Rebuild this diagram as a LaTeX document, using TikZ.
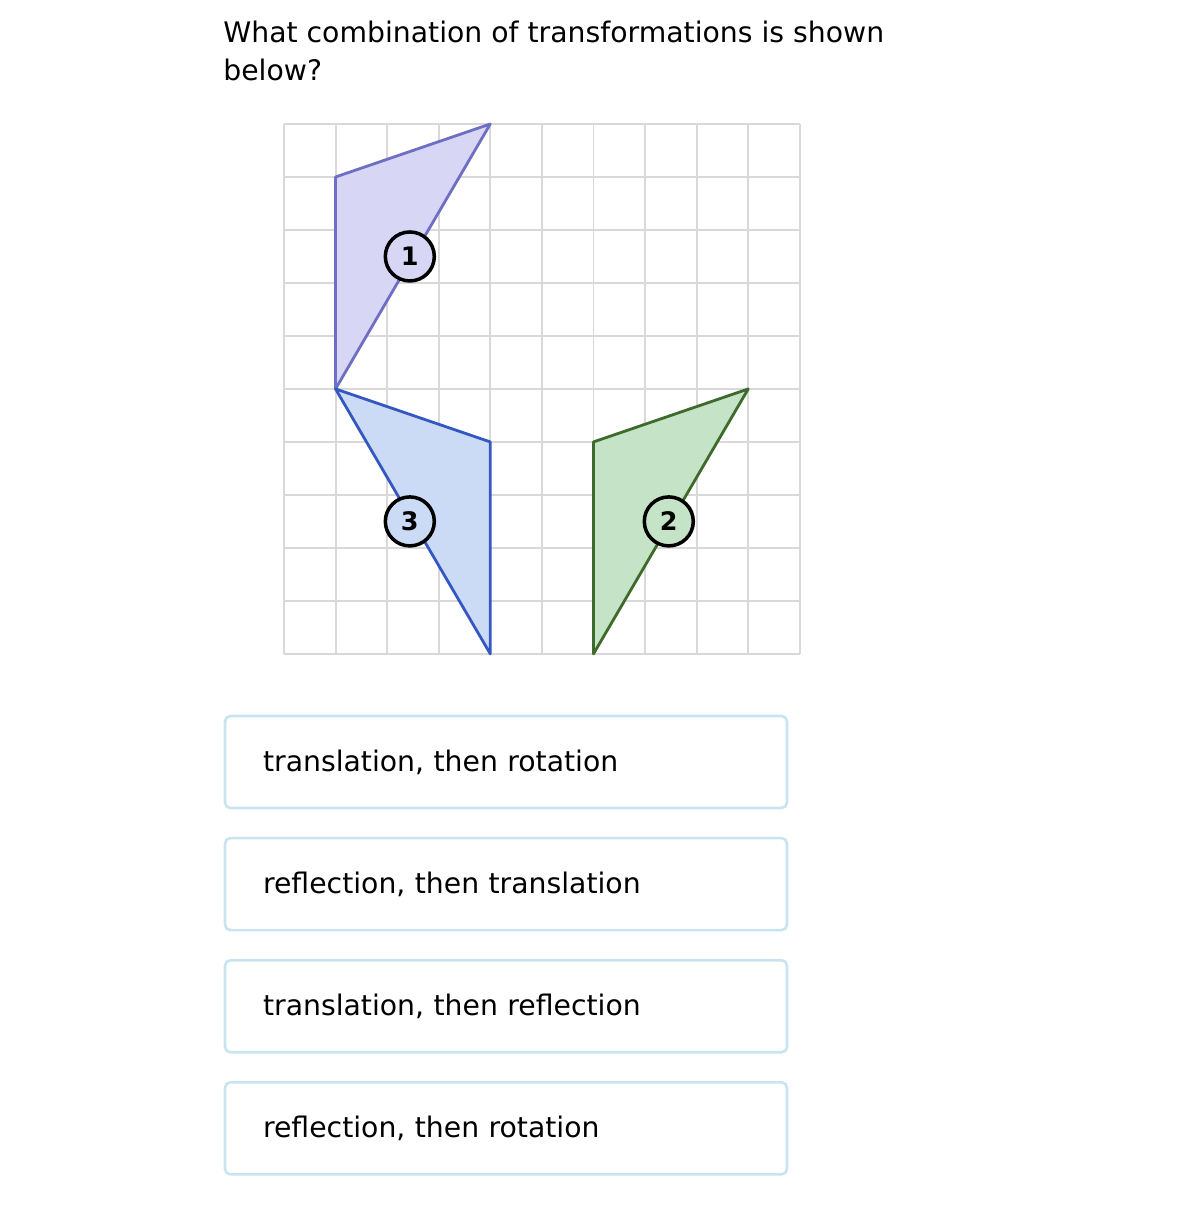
\documentclass[tikz,border=0pt]{standalone}
\usepackage{fontspec}
\setmainfont{DejaVu Sans}
\usetikzlibrary{positioning}

\definecolor{gridgray}{HTML}{D9D9D9}
\definecolor{boxblue}{HTML}{C8E4EF}
\definecolor{lilacfill}{HTML}{D7D7F5}
\definecolor{lilacline}{HTML}{6E6EC4}
\definecolor{bluefill}{HTML}{CCDBF5}
\definecolor{blueline}{HTML}{3557C2}
\definecolor{greenfill}{HTML}{C5E3C7}
\definecolor{greenline}{HTML}{3E6B2C}

\begin{document}
\begin{tikzpicture}[x=0.02cm, y=-0.02cm,
    answer/.style={draw=boxblue, line width=1.5pt, rounded corners=3pt, minimum height=1.84cm,
      text width=9.72cm, inner xsep=0.76cm, inner ysep=0pt, align=left,
      font=\fontsize{16.1}{19}\selectfont},
    tag/.style={circle, draw=black, line width=2pt, minimum size=0.98cm, inner sep=0pt,
      font=\fontsize{14.5}{17}\selectfont\bfseries},
    gridline/.style={gridgray, line width=1.1pt}]
    \useasboundingbox (0,0) rectangle (1203,1205);
    \node[anchor=north west, inner sep=0pt, align=left, font=\fontsize{16.1}{21.6}\selectfont] (question) at (223,21)
        {What combination of transformations is shown\\below?};

    % grid and figures
    \begin{scope}[xshift=5.68cm, yshift=-13.08cm, x=1.032cm, y=1.06cm]
        \foreach \i in {0,...,10} {
            \draw[gridline] (\i,0) -- (\i,10);
            \draw[gridline] (0,\i) -- (10,\i);
        }
        \coordinate (p1a) at (1,9);
        \coordinate (p1b) at (4,10);
        \coordinate (p1c) at (1,5);
        \coordinate (p3a) at (1,5);
        \coordinate (p3b) at (4,4);
        \coordinate (p3c) at (4,0);
        \coordinate (p2a) at (6,4);
        \coordinate (p2b) at (9,5);
        \coordinate (p2c) at (6,0);
        \filldraw[fill=lilacfill, draw=lilacline, line width=1.6pt, line join=round] (p1a) -- (p1b) -- (p1c) -- cycle;
        \filldraw[fill=bluefill, draw=blueline, line width=1.6pt, line join=round] (p3a) -- (p3b) -- (p3c) -- cycle;
        \filldraw[fill=greenfill, draw=greenline, line width=1.6pt, line join=round] (p2a) -- (p2b) -- (p2c) -- cycle;
        \node[tag, fill=lilacfill] (one) at (2.44,7.5) {1};
        \node[tag, fill=bluefill] (three) at (2.44,2.5) {3};
        \node[tag, fill=greenfill] (two) at (7.46,2.5) {2};
    \end{scope}

    % answers
    \node[answer] (ans1) at (506,762) {translation, then rotation};
    \node[answer, below=0.55cm of ans1] (ans2) {reflection, then translation};
    \node[answer, below=0.55cm of ans2] (ans3) {translation, then reflection};
    \node[answer, below=0.55cm of ans3] (ans4) {reflection, then rotation};
\end{tikzpicture}
\end{document}
